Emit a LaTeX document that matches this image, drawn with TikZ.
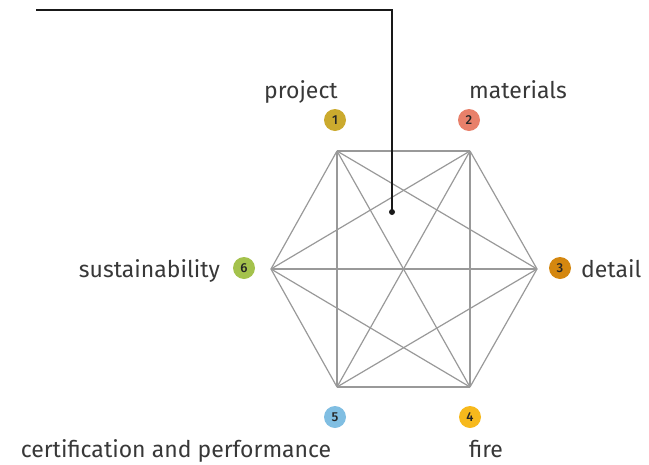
\documentclass[tikz,border=0pt]{standalone}
\usepackage{fontspec}
\setmainfont{Fira Sans}[BoldFont=* Medium]
\begin{document}
\begin{tikzpicture}[x=1pt,y=-1pt,
  edge/.style={draw=black!40,line width=1.2pt},
  lbl/.style={font=\fontsize{23}{26}\selectfont,text=black!78,inner sep=0pt},
  num/.style={circle,fill=#1,minimum size=22pt,inner sep=0pt,font=\fontsize{13}{13}\selectfont\bfseries,text=black!85},
  vtx/.style={inner sep=0pt,minimum size=0pt}]
\useasboundingbox (0,0) rectangle (649,464);
\definecolor{c1}{HTML}{CBAA2E}
\definecolor{c2}{HTML}{E8806A}
\definecolor{c3}{HTML}{D4870F}
\definecolor{c4}{HTML}{F7B91C}
\definecolor{c5}{HTML}{80BEE2}
\definecolor{c6}{HTML}{A4C24C}
% hexagon vertices
\coordinate (v1) at (337,151);
\coordinate (v2) at (470,151);
\coordinate (v3) at (537,269);
\coordinate (v4) at (470,387);
\coordinate (v5) at (337,387);
\coordinate (v6) at (271,269);
\foreach \a/\b in {1/2,1/3,1/4,1/5,1/6,2/3,2/4,2/5,2/6,3/4,3/5,3/6,4/5,4/6,5/6}
  \draw[edge] (v\a) -- (v\b);
% pointer line
\coordinate (ps) at (36,10);
\coordinate (pc) at (392,10);
\coordinate (pe) at (392,212);
\draw[line width=1.3pt,black!90] (ps) -- (pc) -- (pe);
\fill[black!90] (pe) circle (3pt);
% number badges
\node[num=c1] (n1) at (335,120) {1};
\node[num=c2] (n2) at (469,120) {2};
\node[num=c3] (n3) at (560,268) {3};
\node[num=c4] (n4) at (470,417) {4};
\node[num=c5] (n5) at (335,417) {5};
\node[num=c6] (n6) at (244,268) {6};
% labels
\node[lbl,anchor=base] (l1) at (301,98) {project};
\node[lbl,anchor=base] (l2) at (518,98) {materials};
\node[lbl,anchor=base west] (l3) at (581,277) {detail};
\node[lbl,anchor=base] (l4) at (486,457) {fire};
\node[lbl,anchor=base] (l5) at (176,457) {certification and performance};
\node[lbl,anchor=base east] (l6) at (220,277) {sustainability};
\end{tikzpicture}
\end{document}
